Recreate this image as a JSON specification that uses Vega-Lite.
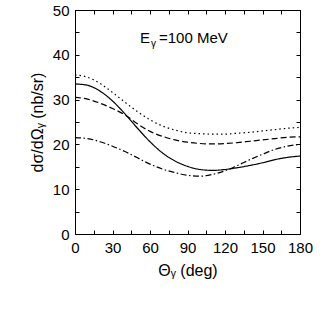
{
  "$schema": "https://vega.github.io/schema/vega-lite/v6.json",
  "width": 225,
  "height": 224,
  "autosize": "none",
  "padding": {"left": 75, "top": 10, "right": 22, "bottom": 77},
  "background": "white",
  "config": {
    "view": {"stroke": null},
    "font": "Liberation Sans",
    "axis": {
      "grid": false,
      "domainColor": "black",
      "domainWidth": 1,
      "tickColor": "black",
      "tickSize": -4,
      "tickWidth": 1,
      "labelFont": "Liberation Sans",
      "labelFontSize": 15,
      "labelColor": "black",
      "titleFont": "Liberation Sans",
      "titleFontSize": 16,
      "titleFontWeight": "normal",
      "titleColor": "black"
    }
  },
  "datasets": {
    "curves": [
      {"theta": 0, "value": 33.5, "model": "solid"},
      {"theta": 10, "value": 33.2, "model": "solid"},
      {"theta": 20, "value": 31.9, "model": "solid"},
      {"theta": 30, "value": 29.7, "model": "solid"},
      {"theta": 40, "value": 26.8, "model": "solid"},
      {"theta": 50, "value": 23.6, "model": "solid"},
      {"theta": 60, "value": 20.6, "model": "solid"},
      {"theta": 70, "value": 18.1, "model": "solid"},
      {"theta": 80, "value": 16.3, "model": "solid"},
      {"theta": 90, "value": 15.1, "model": "solid"},
      {"theta": 100, "value": 14.4, "model": "solid"},
      {"theta": 110, "value": 14.2, "model": "solid"},
      {"theta": 120, "value": 14.4, "model": "solid"},
      {"theta": 130, "value": 14.8, "model": "solid"},
      {"theta": 140, "value": 15.3, "model": "solid"},
      {"theta": 150, "value": 15.9, "model": "solid"},
      {"theta": 160, "value": 16.6, "model": "solid"},
      {"theta": 170, "value": 17.1, "model": "solid"},
      {"theta": 180, "value": 17.4, "model": "solid"},
      {"theta": 0, "value": 30.5, "model": "dashed"},
      {"theta": 10, "value": 30.1, "model": "dashed"},
      {"theta": 20, "value": 29.2, "model": "dashed"},
      {"theta": 30, "value": 28.0, "model": "dashed"},
      {"theta": 40, "value": 26.6, "model": "dashed"},
      {"theta": 50, "value": 24.6, "model": "dashed"},
      {"theta": 60, "value": 22.9, "model": "dashed"},
      {"theta": 70, "value": 21.8, "model": "dashed"},
      {"theta": 80, "value": 21.0, "model": "dashed"},
      {"theta": 90, "value": 20.5, "model": "dashed"},
      {"theta": 100, "value": 20.2, "model": "dashed"},
      {"theta": 110, "value": 20.1, "model": "dashed"},
      {"theta": 120, "value": 20.2, "model": "dashed"},
      {"theta": 130, "value": 20.4, "model": "dashed"},
      {"theta": 140, "value": 20.7, "model": "dashed"},
      {"theta": 150, "value": 21.0, "model": "dashed"},
      {"theta": 160, "value": 21.3, "model": "dashed"},
      {"theta": 170, "value": 21.6, "model": "dashed"},
      {"theta": 180, "value": 21.7, "model": "dashed"},
      {"theta": 0, "value": 35.5, "model": "dotted"},
      {"theta": 10, "value": 35.0, "model": "dotted"},
      {"theta": 20, "value": 33.6, "model": "dotted"},
      {"theta": 30, "value": 31.6, "model": "dotted"},
      {"theta": 40, "value": 29.4, "model": "dotted"},
      {"theta": 50, "value": 27.3, "model": "dotted"},
      {"theta": 60, "value": 25.5, "model": "dotted"},
      {"theta": 70, "value": 24.1, "model": "dotted"},
      {"theta": 80, "value": 23.2, "model": "dotted"},
      {"theta": 90, "value": 22.6, "model": "dotted"},
      {"theta": 100, "value": 22.4, "model": "dotted"},
      {"theta": 110, "value": 22.3, "model": "dotted"},
      {"theta": 120, "value": 22.3, "model": "dotted"},
      {"theta": 130, "value": 22.5, "model": "dotted"},
      {"theta": 140, "value": 22.7, "model": "dotted"},
      {"theta": 150, "value": 23.0, "model": "dotted"},
      {"theta": 160, "value": 23.3, "model": "dotted"},
      {"theta": 170, "value": 23.6, "model": "dotted"},
      {"theta": 180, "value": 23.8, "model": "dotted"},
      {"theta": 0, "value": 21.5, "model": "dashdot"},
      {"theta": 10, "value": 21.3, "model": "dashdot"},
      {"theta": 20, "value": 20.6, "model": "dashdot"},
      {"theta": 30, "value": 19.6, "model": "dashdot"},
      {"theta": 40, "value": 18.4, "model": "dashdot"},
      {"theta": 50, "value": 17.0, "model": "dashdot"},
      {"theta": 60, "value": 15.6, "model": "dashdot"},
      {"theta": 70, "value": 14.5, "model": "dashdot"},
      {"theta": 80, "value": 13.7, "model": "dashdot"},
      {"theta": 90, "value": 13.1, "model": "dashdot"},
      {"theta": 100, "value": 12.9, "model": "dashdot"},
      {"theta": 110, "value": 13.3, "model": "dashdot"},
      {"theta": 120, "value": 14.1, "model": "dashdot"},
      {"theta": 130, "value": 15.3, "model": "dashdot"},
      {"theta": 140, "value": 16.6, "model": "dashdot"},
      {"theta": 150, "value": 17.8, "model": "dashdot"},
      {"theta": 160, "value": 18.9, "model": "dashdot"},
      {"theta": 170, "value": 19.6, "model": "dashdot"},
      {"theta": 180, "value": 20.0, "model": "dashdot"}
    ],
    "label": [
      {"theta": 52, "value": 42.6, "part1": "E", "part2": "γ", "part3": "=100 MeV"}
    ]
  },
  "resolve": {"axis": {"x": "independent", "y": "independent"}},
  "layer": [
    {
      "data": {"name": "curves"},
      "mark": {"type": "line", "interpolate": "monotone", "strokeWidth": 1.2, "color": "black"},
      "encoding": {
        "x": {
          "field": "theta", "type": "quantitative",
          "scale": {"domain": [0, 180], "nice": false, "zero": false},
          "axis": {
            "orient": "bottom",
            "title": "Θᵧ (deg)",
            "values": [0, 15, 30, 45, 60, 75, 90, 105, 120, 135, 150, 165, 180],
            "labelExpr": "datum.value % 30 === 0 ? datum.label : ''",
            "labelPadding": 10,
            "labelFlush": false,
            "titlePadding": 7
          }
        },
        "y": {
          "field": "value", "type": "quantitative",
          "scale": {"domain": [0, 50], "nice": false, "zero": false},
          "axis": {
            "orient": "left",
            "title": "dσ/dΩᵧ  (nb/sr)",
            "values": [0, 5, 10, 15, 20, 25, 30, 35, 40, 45, 50],
            "labelExpr": "datum.value % 10 === 0 ? datum.label : ''",
            "labelPadding": 10,
            "labelFlush": false,
            "titlePadding": 7
          }
        },
        "strokeDash": {
          "field": "model", "type": "nominal",
          "scale": {"domain": ["solid", "dashed", "dotted", "dashdot"], "range": [[1, 0], [6, 3], [1.5, 3], [6, 2.5, 1.5, 2.5]]},
          "legend": null
        },
        "detail": {"field": "model"}
      }
    },
    {
      "data": {"name": "label"},
      "mark": {"type": "text", "align": "left", "baseline": "alphabetic", "fontSize": 15, "font": "Liberation Sans", "color": "black"},
      "encoding": {
        "x": {
          "field": "theta", "type": "quantitative",
          "scale": {"domain": [0, 180], "nice": false, "zero": false},
          "axis": {
            "orient": "top", "title": null, "labels": false,
            "values": [0, 15, 30, 45, 60, 75, 90, 105, 120, 135, 150, 165, 180]
          }
        },
        "y": {
          "field": "value", "type": "quantitative",
          "scale": {"domain": [0, 50], "nice": false, "zero": false},
          "axis": {
            "orient": "right", "title": null, "labels": false,
            "values": [0, 5, 10, 15, 20, 25, 30, 35, 40, 45, 50]
          }
        },
        "text": {"field": "part1"}
      }
    },
    {
      "data": {"name": "label"},
      "mark": {"type": "text", "align": "left", "baseline": "alphabetic", "fontSize": 10, "font": "Liberation Sans", "color": "black", "dx": 11, "dy": 4},
      "encoding": {
        "x": {"field": "theta", "type": "quantitative", "axis": null},
        "y": {"field": "value", "type": "quantitative", "axis": null},
        "text": {"field": "part2"}
      }
    },
    {
      "data": {"name": "label"},
      "mark": {"type": "text", "align": "left", "baseline": "alphabetic", "fontSize": 15, "font": "Liberation Sans", "color": "black", "dx": 19},
      "encoding": {
        "x": {"field": "theta", "type": "quantitative", "axis": null},
        "y": {"field": "value", "type": "quantitative", "axis": null},
        "text": {"field": "part3"}
      }
    }
  ]
}
